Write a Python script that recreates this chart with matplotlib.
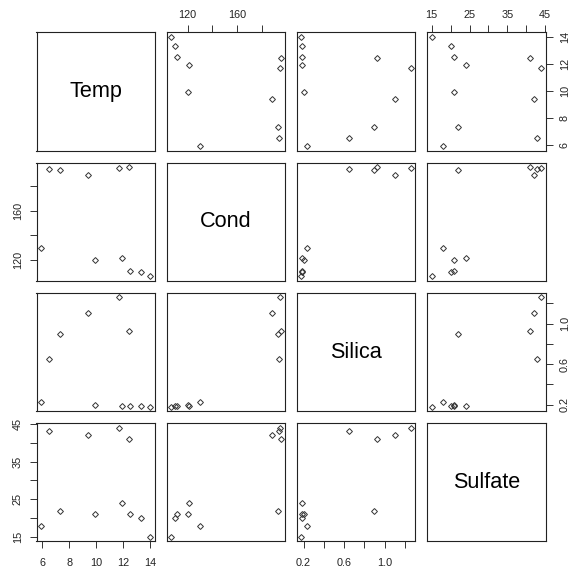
import matplotlib
matplotlib.use('Agg')
import matplotlib.pyplot as plt
from matplotlib.ticker import FixedLocator, FixedFormatter

plt.rcParams['font.family'] = ['Liberation Sans', 'DejaVu Sans']

names = ['Temp', 'Cond', 'Silica', 'Sulfate']
temp = [5.9, 6.5, 7.3, 9.4, 9.9, 11.7, 11.9, 12.4, 12.5, 13.3, 14.0]
cond = [130, 193.5, 193, 188.5, 120, 194.5, 121.5, 195.2, 111.5, 110, 106.8]
silica = [0.23, 0.65, 0.90, 1.10, 0.20, 1.26, 0.19, 0.93, 0.19, 0.19, 0.18]
sulfate = [18, 43, 22, 42, 21, 44, 24, 41, 21, 20, 15]

tick_vals = [
    [6, 8, 10, 12, 14],
    [120, 140, 160, 180],
    [0.2, 0.4, 0.6, 0.8, 1.0, 1.2],
    [15, 20, 25, 30, 35, 40, 45],
]
tick_labels = [
    ['6', '8', '10', '12', '14'],
    ['120', '', '160', ''],
    ['0.2', '', '0.6', '', '1.0', ''],
    ['15', '', '25', '', '35', '', '45'],
]

data = [temp, cond, silica, sulfate]

W, H = 578, 577
fig = plt.figure(figsize=(W / 100, H / 100), dpi=100)

left0, top0, step, size = 36.5, 32.3, 130.3, 118.2

def lims(v):
    lo, hi = min(v), max(v)
    r = hi - lo
    return lo - 0.04 * r, hi + 0.04 * r

tick_kw = dict(length=4.8, width=0.7, color='#333333', labelsize=7.8,
               labelcolor='#222222')

for i in range(4):
    for j in range(4):
        x = left0 + j * step
        y = top0 + i * step
        ax = fig.add_axes([x / W, 1 - (y + size) / H, size / W, size / H])
        for s in ax.spines.values():
            s.set_linewidth(0.8)
            s.set_color('#222222')
        ax.set_xlim(*lims(data[j]))
        ax.set_ylim(*lims(data[i]))
        ax.xaxis.set_major_locator(FixedLocator(tick_vals[j]))
        ax.xaxis.set_major_formatter(FixedFormatter(tick_labels[j]))
        ax.yaxis.set_major_locator(FixedLocator(tick_vals[i]))
        ax.yaxis.set_major_formatter(FixedFormatter(tick_labels[i]))
        ax.tick_params(axis='both', which='both', bottom=False, top=False,
                       left=False, right=False, labelbottom=False,
                       labeltop=False, labelleft=False, labelright=False,
                       **tick_kw)
        if i == 0 and j % 2 == 1:
            ax.tick_params(axis='x', top=True, labeltop=True, pad=4.3)
        if i == 3 and j % 2 == 0:
            ax.tick_params(axis='x', bottom=True, labelbottom=True, pad=7.5)
        if j == 0 and i % 2 == 1:
            ax.tick_params(axis='y', left=True, labelleft=True, pad=5.0)
            for lab in ax.get_yticklabels():
                lab.set_rotation(90)
                lab.set_va('center')
        if j == 3 and i % 2 == 0:
            ax.tick_params(axis='y', right=True, labelright=True, pad=5.5)
            for lab in ax.get_yticklabels():
                lab.set_rotation(90)
                lab.set_va('center')
        if i == j:
            ax.text(0.5, 0.5, names[i], transform=ax.transAxes,
                    ha='center', va='center', fontsize=15.6, color='black')
        else:
            ax.plot(data[j], data[i], linestyle='none', marker='D',
                    markersize=3.0, markerfacecolor='none',
                    markeredgecolor='#333333', markeredgewidth=0.7)

fig.savefig('out.png', dpi=100)
